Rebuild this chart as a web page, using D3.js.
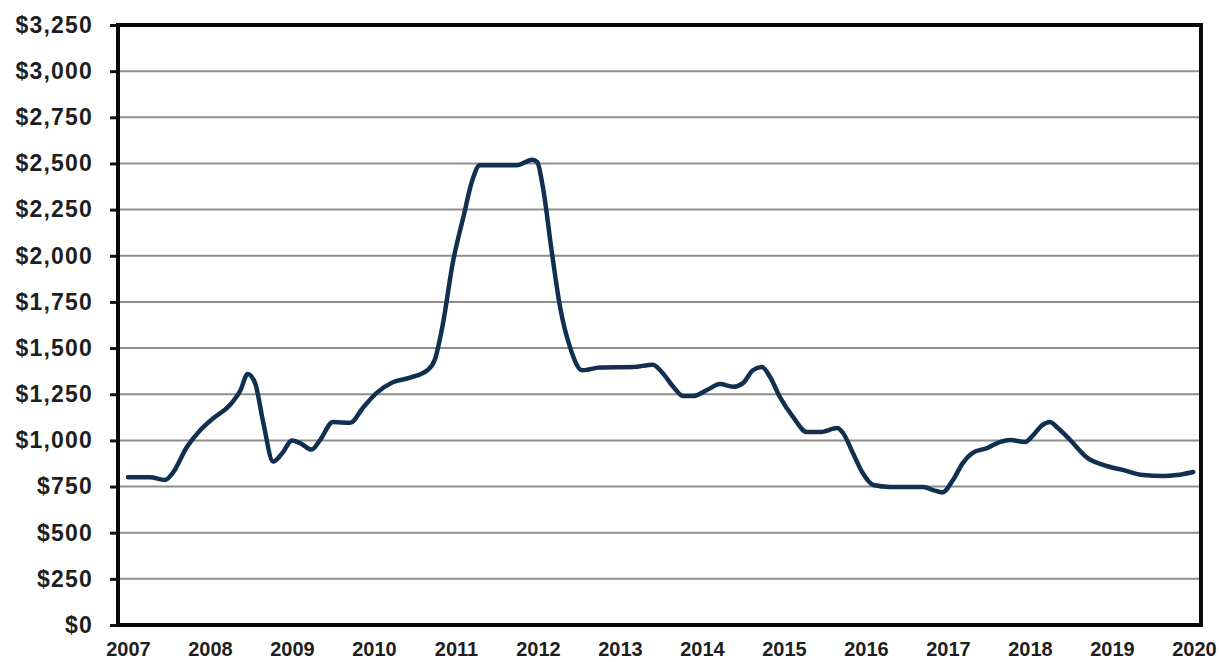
<!DOCTYPE html>
<html>
<head>
<meta charset="utf-8">
<script src="https://cdn.jsdelivr.net/npm/d3@7"></script>
<style>
  html, body { margin: 0; padding: 0; background: #fff; }
  svg { display: block; }
</style>
</head>
<body>
<svg id="chart" width="1219" height="662"></svg>
<script>
// ---- data ----
const yearLabels = ["2007","2008","2009","2010","2011","2012","2013","2014","2015","2016","2017","2018","2019","2020"];
const yTicks = [0,250,500,750,1000,1250,1500,1750,2000,2250,2500,2750,3000,3250];
const years = [2007.00,2007.27,2007.45,2007.54,2007.72,2007.88,2008.04,2008.24,2008.37,2008.46,2008.55,2008.65,2008.77,2008.88,
  2009.00,2009.10,2009.24,2009.34,2009.50,2009.71,2009.87,2010.04,2010.23,2010.44,2010.65,2010.74,2010.84,2010.96,
  2011.09,2011.20,2011.29,2011.54,2011.74,2011.93,2011.99,2012.06,2012.17,2012.27,2012.39,2012.54,2012.76,2013.16,
  2013.40,2013.52,2013.65,2013.77,2013.89,2014.06,2014.22,2014.38,2014.50,2014.62,2014.73,2014.83,2014.95,2015.11,
  2015.28,2015.44,2015.65,2015.72,2015.84,2015.96,2016.09,2016.29,2016.50,2016.70,2016.82,2016.93,2017.06,2017.18,
  2017.30,2017.48,2017.63,2017.76,2017.94,2018.04,2018.15,2018.24,2018.34,2018.49,2018.70,2018.89,2019.13,2019.38,
  2019.62,2019.79,2019.99];
const prices = [800,800,785,820,965,1055,1120,1190,1270,1360,1310,1095,885,930,
  1000,985,950,1000,1100,1095,1180,1260,1315,1340,1380,1435,1630,1960,
  2210,2410,2490,2490,2490,2520,2508,2370,2015,1720,1505,1380,1395,1397,
  1410,1365,1290,1240,1240,1273,1305,1290,1310,1380,1397,1343,1235,1127,
  1045,1045,1067,1040,932,823,758,748,748,748,731,718,785,877,
  932,959,991,1002,991,1029,1083,1100,1067,1002,905,867,840,812,
  807,812,829];

// ---- layout ----
const svg = d3.select("#chart");
const plot = { left: 118, right: 1201, top: 25, bottom: 625 };

const x = d3.scaleLinear().domain([2007, 2020]).range([128, 1194]);
const y = d3.scaleLinear().domain([0, 3250]).range([plot.bottom, plot.top]);

// gridlines
svg.append("g").selectAll("line").data(yTicks.slice(1, -1)).join("line")
  .attr("x1", plot.left).attr("x2", plot.right)
  .attr("y1", d => y(d)).attr("y2", d => y(d))
  .attr("stroke", "#8e8e8e").attr("stroke-width", 2);

// y axis ticks + labels
const yAxis = d3.axisLeft(y).tickValues(yTicks).tickSize(8).tickPadding(17)
  .tickFormat(d => "$" + d3.format(",")(d));
const gy = svg.append("g").attr("transform", `translate(${plot.left},0)`).call(yAxis);
gy.select(".domain").remove();
gy.selectAll(".tick line").attr("stroke", "#111").attr("stroke-width", 3);
gy.selectAll(".tick text")
  .attr("font-family", "Liberation Sans, Arial, sans-serif")
  .attr("font-weight", "bold").attr("font-size", 23)
  .attr("letter-spacing", "1.2px")
  .attr("fill", "#1e1e1e");

// x labels
const xAxis = d3.axisBottom(x).tickValues(yearLabels.map(Number)).tickSize(0).tickPadding(17)
  .tickFormat((d, i) => yearLabels[i]);
const gx = svg.append("g").attr("transform", `translate(0,${plot.bottom})`).call(xAxis);
gx.select(".domain").remove();
gx.selectAll(".tick text")
  .attr("font-family", "Liberation Sans, Arial, sans-serif")
  .attr("font-weight", "bold").attr("font-size", 20)
  .attr("fill", "#1e1e1e");

// frame
svg.append("rect")
  .attr("x", plot.left).attr("y", plot.top)
  .attr("width", plot.right - plot.left).attr("height", plot.bottom - plot.top)
  .attr("fill", "none").attr("stroke", "#0a0a0a").attr("stroke-width", 4);

// line
const pts = years.map((yr, i) => [yr, prices[i]]);
const line = d3.line().x(d => x(d[0])).y(d => y(d[1])).curve(d3.curveMonotoneX);
svg.append("path").datum(pts)
  .attr("d", line)
  .attr("fill", "none")
  .attr("stroke", "#11304f")
  .attr("stroke-width", 4.5)
  .attr("stroke-linejoin", "round")
  .attr("stroke-linecap", "round");
</script>
</body>
</html>
